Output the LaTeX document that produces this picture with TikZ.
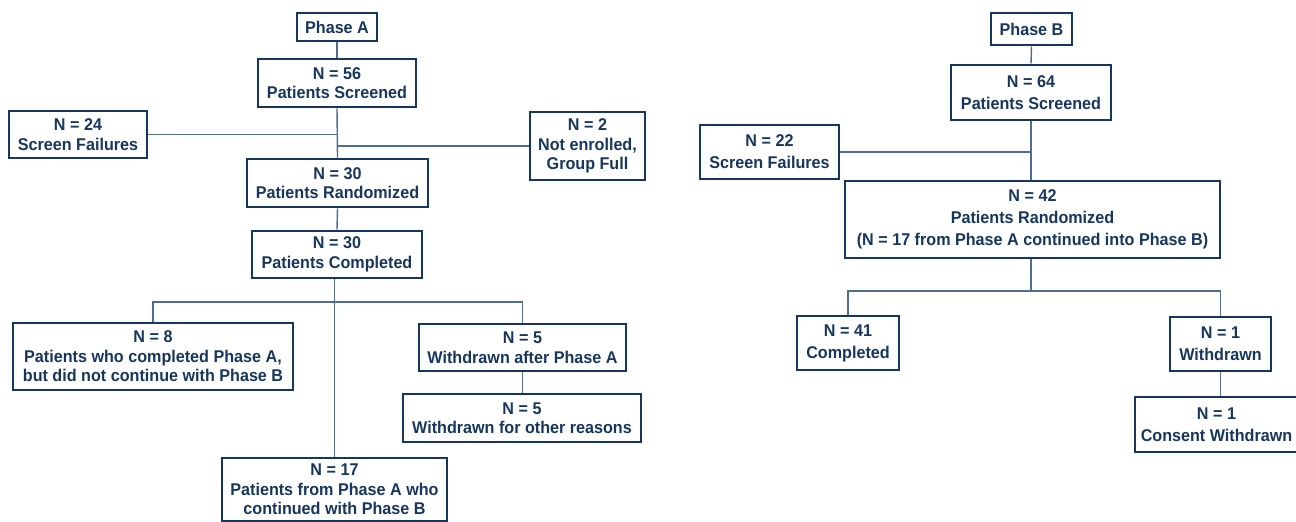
\documentclass[tikz,border=0pt]{standalone}
\usepackage{fontspec}
\setmainfont{Liberation Sans}[FakeStretch=0.95]
\definecolor{navy}{HTML}{17365D}
\definecolor{linec}{HTML}{4F6D8F}
\tikzset{
  box/.style={draw=navy, line width=2.6pt, text=navy, inner sep=0pt, align=center,
    font=\bfseries\fontsize{17}{19.5}\selectfont},
  boxb/.style={box, font=\bfseries\fontsize{17}{22}\selectfont},
  conn/.style={draw=linec, line width=1.4pt}
}
\begin{document}
\begin{tikzpicture}[x=1pt,y=-1pt]
\useasboundingbox (0,0) rectangle (1296,522);
% Phase A
\node[box, minimum width=80pt, minimum height=28pt] (phA) at (337,27) {Phase A};
\node[box, minimum width=158pt, minimum height=48pt] (s56) at (337,83) {N = 56\\Patients Screened};
\node[box, minimum width=138pt, minimum height=47pt] (sf24) at (78,134.5) {N = 24\\Screen Failures};
\node[box, minimum width=115pt, minimum height=68pt] (ne2) at (587.5,146) {N = 2\\Not enrolled,\\Group Full};
\node[box, minimum width=181pt, minimum height=48pt] (r30) at (337.5,183) {N = 30\\Patients Randomized};
\node[box, minimum width=170pt, minimum height=47pt] (c30) at (337,254.5) {N = 30\\Patients Completed};
\node[box, minimum width=280pt, minimum height=67pt] (n8) at (153,356.5) {N = 8\\Patients who completed Phase A,\\but did not continue with Phase B};
\node[box, minimum width=207pt, minimum height=47pt] (w5a) at (522.5,347.5) {N = 5\\Withdrawn after Phase A};
\node[box, minimum width=238pt, minimum height=48pt] (w5o) at (522,418) {N = 5\\Withdrawn for other reasons};
\node[box, minimum width=225pt, minimum height=63pt] (n17) at (334.5,489.5) {N = 17\\Patients from Phase A who\\continued with Phase B};
\coordinate (brA) at (334,302);
\draw[conn] (phA.south) -- (s56.north);
\draw[conn] (s56.south) -- (r30.north);
\draw[conn] (sf24.east) -- (sf24.east -| s56.south);
\draw[conn] (ne2.west -| s56.south) -- (ne2.west);
\draw[conn] (r30.south) -- (c30.north);
\draw[conn] (c30.south -| n17.north) -- (n17.north);
\draw[conn] (n8.north) |- (brA) -| (w5a.north);
\draw[conn] (w5a.south) -- (w5o.north -| w5a.south);
% Phase B
\node[box, minimum width=81pt, minimum height=32pt] (phB) at (1031.5,29) {Phase B};
\node[boxb, minimum width=160pt, minimum height=55pt] (s64) at (1031,92.5) {N = 64\\Patients Screened};
\node[boxb, minimum width=139pt, minimum height=54pt] (sf22) at (769.5,152) {N = 22\\Screen Failures};
\node[boxb, minimum width=375pt, minimum height=77pt] (r42) at (1032.5,219.5) {N = 42\\Patients Randomized\\(N = 17 from Phase A continued into Phase B)};
\node[boxb, minimum width=102pt, minimum height=54pt] (c41) at (848,343) {N = 41\\Completed};
\node[boxb, minimum width=101pt, minimum height=54pt] (w1) at (1220.5,344) {N = 1\\Withdrawn};
\node[boxb, minimum width=163pt, minimum height=55pt] (cw1) at (1216.5,424.5) {N = 1\\Consent Withdrawn};
\coordinate (brB) at (1031,291);
\draw[conn] (phB.south) -- (s64.north);
\draw[conn] (s64.south) -- (s64.south |- r42.north);
\draw[conn] (sf22.east) -- (sf22.east -| s64.south);
\draw[conn] (r42.south -| brB) -- (brB);
\draw[conn] (c41.north) |- (brB) -| (w1.north);
\draw[conn] (w1.south) -- (w1.south |- cw1.north);
\end{tikzpicture}
\end{document}
